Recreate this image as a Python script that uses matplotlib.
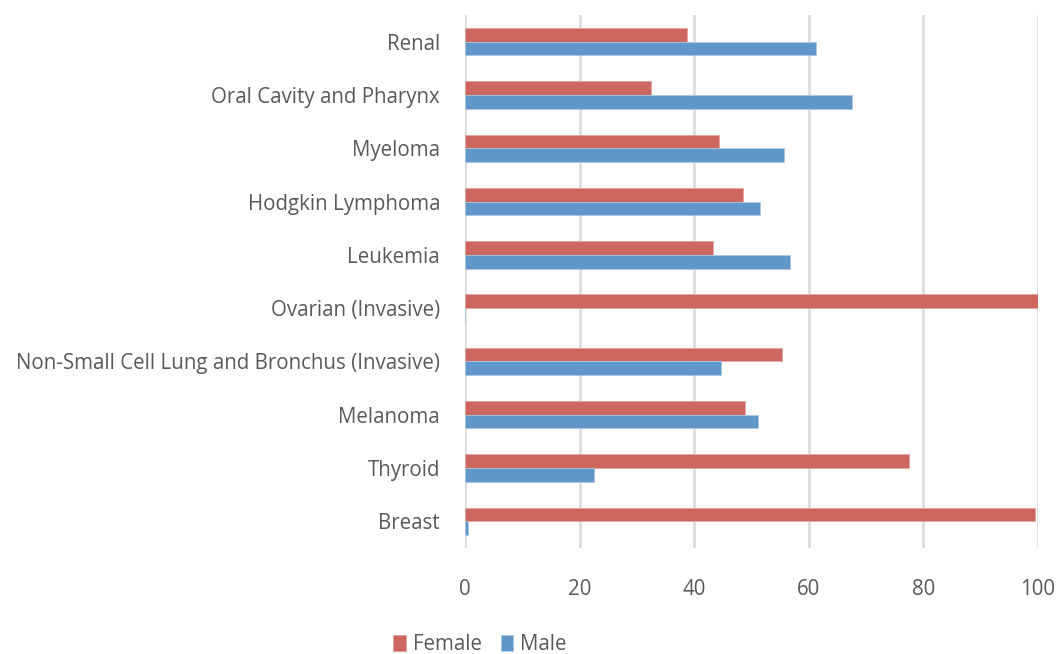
import numpy as np
import matplotlib.pyplot as plt

plt.rcParams['font.family'] = ['Open Sans', 'DejaVu Sans']

# bottom to top, as drawn on the y axis
cancers = ['Breast', 'Thyroid', 'Melanoma',
           'Non-Small Cell Lung and Bronchus (Invasive)', 'Ovarian (Invasive)',
           'Leukemia', 'Hodgkin Lymphoma', 'Myeloma', 'Oral Cavity and Pharynx', 'Renal']
female = [99.5, 77.4, 48.9, 55.4, 100.0, 43.2, 48.5, 44.4, 32.4, 38.8]
male = [0.5, 22.6, 51.1, 44.6, 0.0, 56.8, 51.5, 55.6, 67.6, 61.2]

red = '#CD665E'
blue = '#6096C8'
txt = '#595959'

fig = plt.figure(figsize=(10.58, 6.54), dpi=100)
ax = fig.add_axes([465 / 1058, 1 - 548 / 654, 573 / 1058, 533 / 654])

y = np.arange(len(cancers))
h = 0.257
ax.barh(y + h / 2, female, height=h, color=red, edgecolor='#E3A6A1', linewidth=0.6,
        label='Female', zorder=3)
ax.barh(y - h / 2, male, height=h, color=blue, edgecolor='#A9C7E3', linewidth=0.6,
        label='Male', zorder=3)

ax.set_xlim(0, 100)
ax.set_ylim(-0.5, len(cancers) - 0.5)
ax.set_xticks(np.arange(0, 101, 20))
ax.set_yticks(y)
ax.set_yticklabels(cancers)
ax.grid(axis='x', color='#D9D9D9', linewidth=1.8, zorder=0)
for s in ax.spines.values():
    s.set_visible(False)
ax.tick_params(length=0, labelsize=14.8, labelcolor=txt)
ax.tick_params(axis='x', pad=22)
ax.tick_params(axis='y', pad=18)

fig.legend(loc='center', bbox_to_anchor=(480 / 1058, 1 - 645 / 654), ncol=2, frameon=False,
           fontsize=14.8, labelcolor=txt, handlelength=0.6, handleheight=0.8,
           handletextpad=0.35, columnspacing=0.9, borderpad=0)

fig.savefig('out.png', dpi=100)
